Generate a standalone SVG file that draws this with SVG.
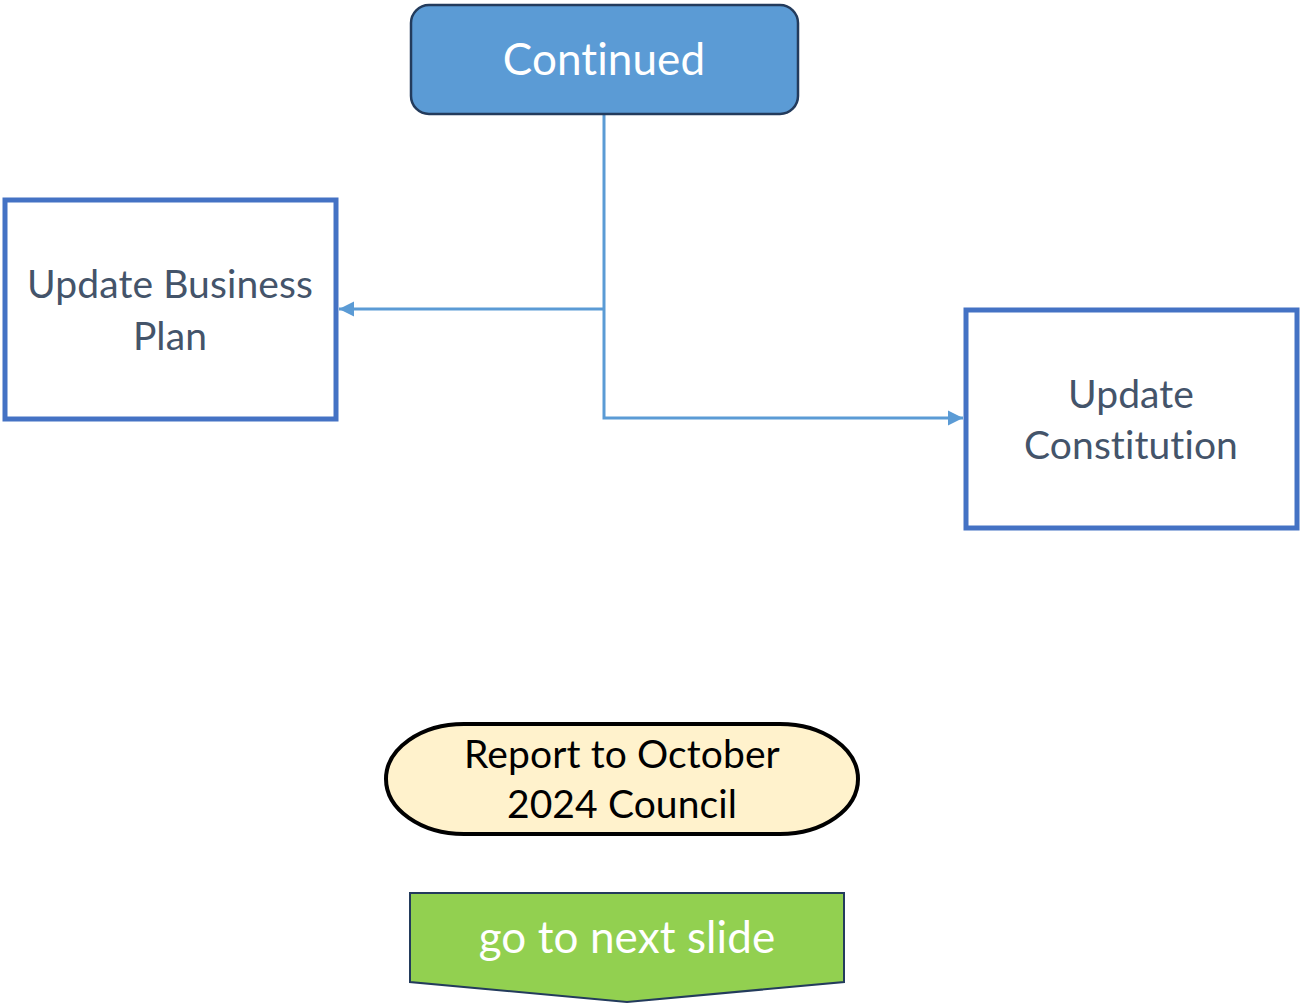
<svg xmlns="http://www.w3.org/2000/svg" width="1302" height="1004" viewBox="0 0 1302 1004">
<defs>
<style>
text{font-family:"Lato","Open Sans","Liberation Sans",sans-serif;text-anchor:middle;font-variant-ligatures:none;font-feature-settings:"liga" 0;letter-spacing:0.1px}
.box{fill:#fff;stroke:#4472C4;stroke-width:5}
.lbl{fill:#44546A;font-size:39px}
.conn{fill:none;stroke:#5B9BD5;stroke-width:3}
</style>
<marker id="ah" viewBox="0 0 10 10" refX="10" refY="5" markerWidth="5" markerHeight="5.5" markerUnits="strokeWidth" orient="auto">
<path d="M0,0 L10,5 L0,10 z" fill="#5B9BD5"/>
</marker>
</defs>
<g id="connectors">
<path class="conn" d="M604,114 V418 H963" marker-end="url(#ah)"/>
<path class="conn" d="M604,309 H339" marker-end="url(#ah)"/>
</g>
<g id="continued">
<rect x="411" y="5" width="387" height="109" rx="18" fill="#5B9BD5" stroke="#233B5C" stroke-width="2.5"/>
<text x="604" y="75" fill="#fff" font-size="44">Continued</text>
</g>
<g id="business">
<rect class="box" x="5" y="200" width="331" height="219"/>
<text class="lbl" x="170" y="298">Update Business</text>
<text class="lbl" x="170" y="350">Plan</text>
</g>
<g id="constitution">
<rect class="box" x="966" y="310" width="331" height="218"/>
<text class="lbl" x="1131" y="408">Update</text>
<text class="lbl" x="1131" y="459">Constitution</text>
</g>
<g id="report">
<rect x="386" y="724" width="472" height="110" rx="78" ry="55" fill="#FFF2CC" stroke="#000" stroke-width="4"/>
<text x="622" y="768" fill="#000" font-size="39">Report to October</text>
<text x="622" y="818" fill="#000" font-size="39">2024 Council</text>
</g>
<g id="next">
<path d="M410,893 H844 V982 L627,1002 L410,982 Z" fill="#92D050" stroke="#233B5C" stroke-width="2"/>
<text x="627" y="953" fill="#fff" font-size="44">go to next slide</text>
</g>
</svg>
